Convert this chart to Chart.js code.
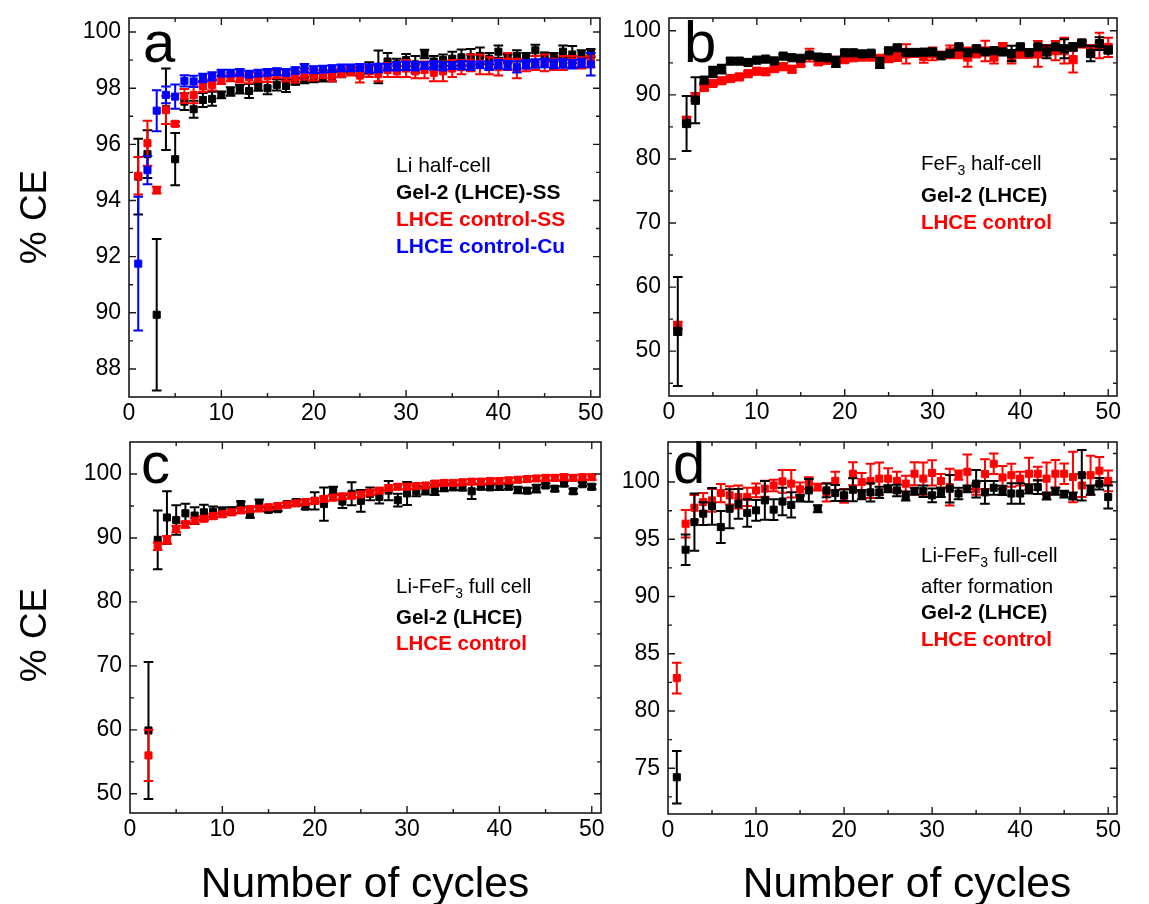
<!DOCTYPE html>
<html>
<head>
<meta charset="utf-8">
<script src="https://cdn.jsdelivr.net/npm/chart.js@4.4.1/dist/chart.umd.min.js"></script>
<style>
  body { margin: 0; background: #fff; width: 1149px; height: 904px; position: relative; overflow: hidden; }
  canvas { position: absolute; }
</style>
</head>
<body>
<canvas id="chartA" width="612" height="430" style="left:0;top:0"></canvas>
<canvas id="chartB" width="537" height="430" style="left:612px;top:0"></canvas>
<canvas id="chartC" width="612" height="474" style="left:0;top:430px"></canvas>
<canvas id="chartD" width="537" height="474" style="left:612px;top:430px"></canvas>
<script>
const FONT = '"Liberation Sans", Arial, Helvetica, sans-serif';

// cycle numbers
const cycles = [1, 2, 3, 4, 5, 6, 7, 8, 9, 10, 11, 12, 13, 14, 15, 16, 17, 18, 19, 20,
  21, 22, 23, 24, 25, 26, 27, 28, 29, 30, 31, 32, 33, 34, 35, 36, 37, 38, 39, 40,
  41, 42, 43, 44, 45, 46, 47, 48, 49, 50];
const cyclesC = [2, 3, 4, 5, 6, 7, 8, 9, 10, 11, 12, 13, 14, 15, 16, 17, 18, 19, 20,
  21, 22, 23, 24, 25, 26, 27, 28, 29, 30, 31, 32, 33, 34, 35, 36, 37, 38, 39, 40,
  41, 42, 43, 44, 45, 46, 47, 48, 49, 50];

// tick labels
const xTicks = [0, 10, 20, 30, 40, 50];
const yTicksA = [88, 90, 92, 94, 96, 98, 100];
const yTicksB = [50, 60, 70, 80, 90, 100];
const yTicksC = [50, 60, 70, 80, 90, 100];
const yTicksD = [75, 80, 85, 90, 95, 100];

// (a) Li half-cell
const aGel = [94.85, 95.65, 89.93, 97.25, 95.47, 97.52, 97.25, 97.58, 97.62, 97.76,
  97.88, 97.96, 97.9, 98.06, 98.0, 98.12, 98.08, 98.24, 98.3, 98.36,
  98.39, 98.44, 98.54, 98.65, 98.6, 98.72, 98.76, 98.95, 98.85, 99.0,
  98.85, 99.22, 98.95, 99.0, 99.05, 99.1, 99.1, 99.15, 99.05, 99.3,
  99.05, 99.15, 99.1, 99.35, 99.15, 99.1, 99.3, 99.2, 99.2, 99.25];
const aGelErr = [1.35, 0.85, 2.7, 1.45, 0.93, 0.3, 0.3, 0.25, 0.25, 0.12,
  0.15, 0.15, 0.25, 0.15, 0.22, 0.2, 0.22, 0.12, 0.12, 0.15,
  0.15, 0.2, 0.15, 0.12, 0.15, 0.2, 0.58, 0.3, 0.2, 0.22,
  0.3, 0.15, 0.2, 0.2, 0.25, 0.28, 0.3, 0.3, 0.2, 0.22,
  0.15, 0.2, 0.15, 0.2, 0.12, 0.15, 0.22, 0.3, 0.15, 0.15];
const aCtrlSS = [94.88, 96.04, 94.37, 97.22, 96.73, 97.72, 97.76, 98.06, 98.12, 98.3,
  98.4, 98.35, 98.38, 98.38, 98.42, 98.5, 98.45, 98.4, 98.5, 98.47,
  98.5, 98.45, 98.55, 98.6, 98.45, 98.6, 98.5, 98.65, 98.6, 98.7,
  98.6, 98.65, 98.55, 98.6, 98.7, 98.75, 98.9, 98.85, 98.8, 98.75,
  98.95, 98.7, 98.8, 98.9, 98.9, 98.85, 98.9, 98.95, 98.9, 98.95];
const aCtrlSSErr = [0.67, 0.8, 0.12, 0.5, 0.08, 0.25, 0.3, 0.2, 0.2, 0.15,
  0.15, 0.15, 0.2, 0.15, 0.2, 0.15, 0.2, 0.2, 0.2, 0.2,
  0.15, 0.2, 0.15, 0.15, 0.25, 0.2, 0.25, 0.25, 0.2, 0.3,
  0.25, 0.3, 0.3, 0.35, 0.3, 0.25, 0.3, 0.35, 0.3, 0.3,
  0.3, 0.35, 0.2, 0.25, 0.3, 0.2, 0.25, 0.2, 0.2, 0.2];
const aCtrlCu = [91.75, 95.08, 97.2, 97.76, 97.7, 98.26, 98.24, 98.36, 98.42, 98.54,
  98.54, 98.56, 98.5, 98.54, 98.56, 98.59, 98.56, 98.63, 98.71, 98.66,
  98.68, 98.7, 98.72, 98.72, 98.74, 98.7, 98.72, 98.75, 98.78, 98.8,
  98.78, 98.8, 98.82, 98.78, 98.8, 98.82, 98.8, 98.83, 98.8, 98.85,
  98.82, 98.76, 98.85, 98.88, 98.9, 98.86, 98.88, 98.85, 98.9, 98.85];
const aCtrlCuErr = [2.38, 0.5, 0.73, 0.3, 0.43, 0.2, 0.2, 0.15, 0.15, 0.12,
  0.12, 0.12, 0.12, 0.12, 0.12, 0.12, 0.12, 0.12, 0.15, 0.12,
  0.12, 0.12, 0.12, 0.12, 0.12, 0.15, 0.15, 0.12, 0.15, 0.15,
  0.15, 0.12, 0.15, 0.15, 0.12, 0.15, 0.15, 0.12, 0.15, 0.15,
  0.15, 0.2, 0.15, 0.15, 0.15, 0.15, 0.15, 0.15, 0.15, 0.4];

// (b) FeF3 half-cell
const bGel = [53.08, 85.53, 89.17, 92.3, 93.6, 94.02, 95.27, 95.27, 95.06, 95.42,
  95.58, 95.3, 96.05, 95.8, 95.7, 96.2, 95.9, 95.8, 95.16, 96.57,
  96.57, 96.4, 96.5, 95.0, 96.88, 97.35, 96.62, 96.62, 96.67, 96.7,
  96.1, 96.45, 97.5, 96.57, 97.2, 96.7, 96.9, 96.7, 96.45, 97.5,
  96.6, 97.5, 96.7, 97.5, 97.2, 97.5, 98.1, 96.45, 98.0, 97.0];
const bGelErr = [8.5, 4.3, 3.6, 0.5, 0.8, 0.7, 0.4, 0.3, 0.4, 0.3,
  0.3, 0.3, 0.3, 0.3, 0.3, 0.3, 0.3, 0.3, 0.8, 0.3,
  0.3, 0.3, 0.3, 0.8, 0.3, 0.4, 0.3, 0.3, 0.3, 0.3,
  0.3, 0.3, 0.3, 0.3, 0.4, 0.3, 0.3, 0.3, 1.2, 0.3,
  0.3, 0.3, 1.0, 0.3, 1.5, 0.6, 0.3, 1.2, 1.0, 0.5];
const bCtrl = [54.0, 86.05, 89.7, 91.15, 91.8, 92.2, 92.55, 92.8, 93.3, 93.7,
  93.6, 94.1, 94.4, 94.0, 94.9, 96.2, 95.16, 95.4, 95.4, 95.5,
  95.8, 95.9, 95.9, 95.7, 95.7, 95.9, 96.4, 96.5, 96.0, 96.4,
  96.2, 96.7, 96.5, 95.9, 96.4, 96.85, 95.9, 97.5, 95.9, 96.4,
  96.4, 96.4, 97.0, 96.9, 96.9, 95.5, 98.0, 97.0, 97.7, 97.4];
const bCtrlErr = [0.6, 0.5, 0.6, 0.4, 0.4, 0.4, 0.4, 0.4, 0.4, 0.4,
  0.4, 0.4, 0.5, 0.5, 0.4, 1.0, 0.5, 0.4, 0.4, 0.4,
  0.4, 0.4, 0.4, 0.4, 0.6, 0.6, 1.5, 0.6, 1.0, 1.0,
  0.5, 1.0, 0.8, 1.5, 0.5, 1.6, 1.0, 0.6, 1.0, 0.6,
  0.6, 2.0, 0.8, 1.5, 2.0, 2.0, 0.6, 0.8, 2.0, 1.5];

// (c) Li-FeF3 full cell (cycles 2-50)
const cGel = [59.9, 89.7, 93.2, 92.8, 93.85, 93.5, 94.0, 94.1, 94.27,
  94.3, 95.3, 93.64, 95.4, 94.4, 94.5, 95.3, 95.6, 94.9, 95.8,
  95.3, 97.4, 95.7, 96.9, 95.8, 96.9, 96.4, 97.4, 95.9, 96.96,
  97.3, 97.4, 97.5, 97.9, 97.9, 97.9, 97.3, 98.0, 97.9, 98.0,
  98.0, 97.5, 97.4, 97.7, 98.2, 97.7, 98.5, 97.3, 98.4, 98.0];
const cGelErr = [10.7, 4.6, 4.1, 2.3, 1.5, 1.3, 1.2, 0.8, 0.5,
  0.5, 0.4, 0.5, 0.6, 0.4, 0.3, 0.3, 0.4, 0.4, 1.35,
  2.6, 0.6, 1.0, 1.8, 1.7, 1.0, 1.0, 1.5, 1.0, 1.8,
  0.8, 0.6, 0.8, 0.6, 0.4, 0.5, 1.2, 0.4, 0.4, 0.5,
  0.4, 0.5, 0.4, 0.6, 0.3, 0.4, 0.4, 0.4, 0.3, 0.4];
const cCtrl = [56.0, 88.7, 89.7, 91.4, 92.1, 92.7, 93.0, 93.4, 93.7,
  94.0, 94.3, 94.5, 94.6, 94.8, 95.0, 95.2, 95.4, 95.6, 95.8,
  96.1, 96.3, 96.5, 96.6, 96.8, 97.1, 97.4, 97.8, 98.0, 98.0,
  98.1, 98.2, 98.5, 98.6, 98.6, 98.7, 98.8, 98.8, 98.9, 98.9,
  99.0, 99.1, 99.2, 99.3, 99.4, 99.4, 99.5, 99.4, 99.5, 99.5];
const cCtrlErr = [4.0, 0.6, 0.6, 0.5, 0.5, 0.4, 0.4, 0.4, 0.4,
  0.4, 0.4, 0.4, 0.4, 0.4, 0.4, 0.4, 0.4, 0.4, 0.4,
  0.4, 0.4, 0.4, 0.4, 0.4, 0.4, 0.4, 0.4, 0.4, 0.4,
  0.4, 0.4, 0.4, 0.4, 0.4, 0.4, 0.4, 0.4, 0.4, 0.4,
  0.4, 0.4, 0.4, 0.4, 0.4, 0.4, 0.4, 0.4, 0.4, 0.4];

// (d) Li-FeF3 full-cell after formation
const dGel = [74.21, 94.09, 96.5, 97.24, 97.88, 96.07, 97.67, 98.1, 97.3, 97.53,
  98.4, 97.59, 98.3, 98.0, 98.6, 99.27, 97.67, 99.27, 99.04, 98.84,
  99.33, 98.9, 99.1, 99.1, 99.42, 99.27, 98.78, 99.2, 99.2, 98.84,
  99.1, 99.42, 99.0, 99.4, 99.86, 99.1, 99.5, 99.27, 99.0, 99.0,
  99.4, 99.56, 98.78, 99.2, 98.95, 98.78, 100.6, 99.3, 99.86, 98.69];
const dGelErr = [2.3, 1.33, 2.5, 1.0, 1.6, 1.4, 1.7, 1.3, 1.2, 0.9,
  1.7, 0.9, 1.2, 1.1, 0.3, 1.0, 0.3, 0.6, 0.7, 0.5,
  1.0, 0.4, 0.8, 0.5, 0.3, 0.5, 0.4, 0.3, 0.5, 0.6,
  0.4, 1.2, 0.5, 0.3, 1.2, 1.0, 0.6, 0.4, 0.9, 0.9,
  0.4, 0.6, 0.3, 0.3, 0.3, 0.3, 2.2, 0.4, 0.5, 1.0];
const dCtrl = [82.87, 96.36, 97.76, 98.25, 98.4, 99.04, 98.84, 98.7, 98.7, 99.27,
  99.42, 99.7, 100.06, 99.86, 99.36, 99.92, 99.56, 99.1, 100.1, 98.8,
  100.73, 100.0, 100.1, 100.3, 100.3, 100.1, 99.86, 100.73, 100.3, 100.8,
  100.1, 99.56, 100.6, 100.9, 99.4, 100.7, 101.6, 100.4, 100.6, 100.3,
  100.73, 100.73, 100.3, 100.73, 100.73, 100.44, 99.7, 100.6, 101.0, 100.1];
const dCtrlErr = [1.35, 1.2, 1.1, 0.8, 1.0, 0.8, 0.8, 1.0, 0.8, 0.6,
  0.7, 0.5, 1.0, 1.2, 0.6, 0.5, 0.3, 0.8, 0.8, 0.6,
  1.0, 0.8, 1.5, 1.4, 0.9, 0.8, 0.7, 1.0, 1.4, 1.1,
  0.6, 1.6, 0.4, 1.5, 0.5, 1.3, 0.9, 1.0, 1.0, 0.6,
  1.4, 0.6, 1.4, 1.2, 0.9, 2.2, 1.0, 1.7, 1.2, 0.9];

const BLACK = '#000000', RED = '#ff0000', BLUE = '#0000ff';

// vertical error bars with caps, drawn just before each dataset's markers
const errorBars = {
  id: 'errorBars',
  beforeDatasetDraw(chart, args) {
    const ds = chart.data.datasets[args.index];
    if (!ds.errors) return;
    const ctx = chart.ctx, ys = chart.scales.y, a = chart.chartArea;
    ctx.save();
    ctx.beginPath();
    ctx.rect(a.left, a.top, a.right - a.left, a.bottom - a.top);
    ctx.clip();
    ctx.strokeStyle = ds.backgroundColor;
    ctx.lineWidth = 2;
    args.meta.data.forEach((pt, i) => {
      const e = ds.errors[i];
      if (!e) return;
      const v = ds.data[i].y;
      const top = ys.getPixelForValue(v + e), bot = ys.getPixelForValue(v - e);
      ctx.beginPath();
      ctx.moveTo(pt.x, top); ctx.lineTo(pt.x, bot);
      ctx.moveTo(pt.x - 4.8, top); ctx.lineTo(pt.x + 4.8, top);
      ctx.moveTo(pt.x - 4.8, bot); ctx.lineTo(pt.x + 4.8, bot);
      ctx.stroke();
    });
    ctx.restore();
  }
};

// frame, inward ticks, panel letter, annotations and axis titles
function decor(p) {
  return {
    id: 'decor',
    afterDraw(chart) {
      const ctx = chart.ctx, a = chart.chartArea, xs = chart.scales.x, ys = chart.scales.y;
      ctx.save();
      ctx.strokeStyle = '#1a1a1a';
      ctx.lineWidth = 1.6;
      ctx.strokeRect(a.left, a.top, a.right - a.left, a.bottom - a.top);
      ctx.lineWidth = 1.4;
      ctx.beginPath();
      for (let v = 0; v <= xs.max; v += 5) {
        const px = xs.getPixelForValue(v);
        if (px <= a.left + 1 || px >= a.right - 1) continue;
        const len = v % 10 === 0 ? 7 : 4;
        ctx.moveTo(px, a.bottom); ctx.lineTo(px, a.bottom - len);
        ctx.moveTo(px, a.top); ctx.lineTo(px, a.top + len);
      }
      for (let v = Math.ceil(ys.min / p.yMinor) * p.yMinor; v <= ys.max; v += p.yMinor) {
        const py = ys.getPixelForValue(v);
        if (py <= a.top + 1.5 || py >= a.bottom - 1.5) continue;
        const len = p.yTicks.some(t => Math.abs(t - v) < 1e-6) ? 7 : 4;
        ctx.moveTo(a.left, py); ctx.lineTo(a.left + len, py);
        ctx.moveTo(a.right, py); ctx.lineTo(a.right - len, py);
      }
      ctx.stroke();

      ctx.textAlign = 'left';
      ctx.textBaseline = 'alphabetic';
      ctx.fillStyle = '#000';
      ctx.font = `58px ${FONT}`;
      ctx.fillText(p.letter, p.letterX, p.letterY);

      p.notes.forEach(line => {
        let cx = p.noteX;
        line.parts.forEach(part => {
          const size = part.sub ? 14 : p.noteSize;
          ctx.font = `${line.bold ? 'bold ' : ''}${size}px ${FONT}`;
          ctx.fillStyle = line.color;
          ctx.fillText(part.t, cx, line.y + (part.sub ? 5 : 0));
          cx += ctx.measureText(part.t).width;
        });
      });

      ctx.fillStyle = '#000';
      if (p.yTitle) {
        ctx.save();
        ctx.translate(p.yTitle.x, p.yTitle.y);
        ctx.rotate(-Math.PI / 2);
        ctx.textAlign = 'center';
        ctx.textBaseline = 'middle';
        ctx.font = `37px ${FONT}`;
        ctx.fillText(p.yTitle.text, 0, 0);
        ctx.restore();
      }
      if (p.xTitle) {
        ctx.textAlign = 'center';
        ctx.textBaseline = 'alphabetic';
        ctx.font = `42.5px ${FONT}`;
        ctx.fillText(p.xTitle.text, p.xTitle.x, p.xTitle.y);
      }
      ctx.restore();
    }
  };
}

function makePanel(id, p) {
  return new Chart(document.getElementById(id), {
    type: 'scatter',
    data: {
      datasets: p.series.map(s => ({
        label: s.label,
        data: s.x.map((c, i) => ({ x: c, y: s.y[i] })),
        errors: s.err,
        backgroundColor: s.color,
        borderColor: s.color,
        pointStyle: 'rect',
        pointRadius: p.marker,
        pointBorderWidth: 1,
        showLine: false
      }))
    },
    options: {
      responsive: false,
      animation: false,
      events: [],
      layout: { padding: p.pad },
      plugins: { legend: { display: false }, tooltip: { enabled: false } },
      scales: {
        x: {
          type: 'linear', min: 0, max: 51,
          grid: { display: false, drawTicks: false },
          border: { display: false },
          ticks: { padding: 3, color: '#000', font: { family: FONT, size: 23 }, autoSkip: false, maxRotation: 0 },
          afterBuildTicks: s => { s.ticks = xTicks.map(v => ({ value: v })); },
          afterFit: s => { s.height = p.xH; s.paddingLeft = 0; s.paddingRight = 0; }
        },
        y: {
          type: 'linear', min: p.yMin, max: p.yMax,
          grid: { display: false, drawTicks: false },
          border: { display: false },
          ticks: { padding: 8, color: '#000', font: { family: FONT, size: 23 }, autoSkip: false },
          afterBuildTicks: s => { s.ticks = p.yTicks.map(v => ({ value: v })); },
          afterFit: s => { s.width = p.yW; s.paddingTop = 0; s.paddingBottom = 0; }
        }
      }
    },
    plugins: [errorBars, decor(p)]
  });
}

makePanel('chartA', {
  series: [
    { label: 'LHCE control-Cu', x: cycles, y: aCtrlCu, err: aCtrlCuErr, color: BLUE },
    { label: 'LHCE control-SS', x: cycles, y: aCtrlSS, err: aCtrlSSErr, color: RED },
    { label: 'Gel-2 (LHCE)-SS', x: cycles, y: aGel, err: aGelErr, color: BLACK }
  ],
  yMin: 87, yMax: 100.5, yTicks: yTicksA, yMinor: 1, marker: 5,
  pad: { left: 0, top: 18, right: 12, bottom: 0 }, yW: 129, xH: 33,
  letter: 'a', letterX: 143, letterY: 62,
  noteX: 396, noteSize: 21,
  notes: [
    { parts: [{ t: 'Li half-cell' }], color: BLACK, y: 172 },
    { parts: [{ t: 'Gel-2 (LHCE)-SS' }], color: BLACK, bold: true, y: 199 },
    { parts: [{ t: 'LHCE control-SS' }], color: RED, bold: true, y: 226 },
    { parts: [{ t: 'LHCE control-Cu' }], color: BLUE, bold: true, y: 253 }
  ],
  yTitle: { text: '% CE', x: 36, y: 217 }
});

makePanel('chartB', {
  series: [
    { label: 'Gel-2 (LHCE)', x: cycles, y: bGel, err: bGelErr, color: BLACK },
    { label: 'LHCE control', x: cycles, y: bCtrl, err: bCtrlErr, color: RED }
  ],
  yMin: 43, yMax: 102, yTicks: yTicksB, yMinor: 5, marker: 5.8,
  pad: { left: 0, top: 18, right: 32, bottom: 0 }, yW: 57, xH: 34,
  letter: 'b', letterX: 72, letterY: 62,
  noteX: 309, noteSize: 20.5,
  notes: [
    { parts: [{ t: 'FeF' }, { t: '3', sub: true }, { t: ' half-cell' }], color: BLACK, y: 170 },
    { parts: [{ t: 'Gel-2 (LHCE)' }], color: BLACK, bold: true, y: 202 },
    { parts: [{ t: 'LHCE control' }], color: RED, bold: true, y: 229 }
  ]
});

makePanel('chartC', {
  series: [
    { label: 'LHCE control', x: cyclesC, y: cCtrl, err: cCtrlErr, color: RED },
    { label: 'Gel-2 (LHCE)', x: cyclesC, y: cGel, err: cGelErr, color: BLACK }
  ],
  yMin: 47, yMax: 105, yTicks: yTicksC, yMinor: 5, marker: 5,
  pad: { left: 0, top: 12, right: 11, bottom: 0 }, yW: 130, xH: 91,
  letter: 'c', letterX: 141, letterY: 53,
  noteX: 396, noteSize: 20.5,
  notes: [
    { parts: [{ t: 'Li-FeF' }, { t: '3', sub: true }, { t: ' full cell' }], color: BLACK, y: 163 },
    { parts: [{ t: 'Gel-2 (LHCE)' }], color: BLACK, bold: true, y: 194 },
    { parts: [{ t: 'LHCE control' }], color: RED, bold: true, y: 220 }
  ],
  yTitle: { text: '% CE', x: 36, y: 205 },
  xTitle: { text: 'Number of cycles', x: 365, y: 467 }
});

makePanel('chartD', {
  series: [
    { label: 'Gel-2 (LHCE)', x: cycles, y: dGel, err: dGelErr, color: BLACK },
    { label: 'LHCE control', x: cycles, y: dCtrl, err: dCtrlErr, color: RED }
  ],
  yMin: 71, yMax: 103.5, yTicks: yTicksD, yMinor: 2.5, marker: 5,
  pad: { left: 0, top: 12, right: 32, bottom: 0 }, yW: 56, xH: 90,
  letter: 'd', letterX: 61, letterY: 53,
  noteX: 309, noteSize: 20.5,
  notes: [
    { parts: [{ t: 'Li-FeF' }, { t: '3', sub: true }, { t: ' full-cell' }], color: BLACK, y: 132 },
    { parts: [{ t: 'after formation' }], color: BLACK, y: 163 },
    { parts: [{ t: 'Gel-2 (LHCE)' }], color: BLACK, bold: true, y: 189 },
    { parts: [{ t: 'LHCE control' }], color: RED, bold: true, y: 216 }
  ],
  xTitle: { text: 'Number of cycles', x: 295, y: 467 }
});
</script>
</body>
</html>
